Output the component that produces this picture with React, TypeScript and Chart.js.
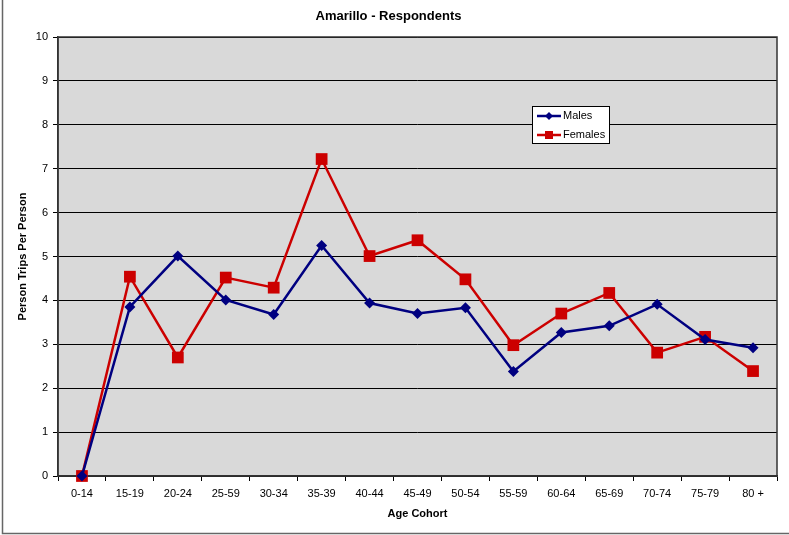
import React, { useEffect, useRef } from "react";
import { Chart, registerables } from "chart.js";

Chart.register(...registerables);

const categories = ["0-14", "15-19", "20-24", "25-59", "30-34", "35-39", "40-44", "45-49", "50-54", "55-59", "60-64", "65-69", "70-74", "75-79", "80 +"];
const males = [0, 3.85, 5.01, 4.01, 3.68, 5.25, 3.94, 3.7, 3.83, 2.38, 3.27, 3.42, 3.91, 3.11, 2.92];
const females = [0, 4.54, 2.7, 4.52, 4.29, 7.22, 5.01, 5.37, 4.48, 2.98, 3.7, 4.17, 2.81, 3.17, 2.39];
const chartTitle = "Amarillo - Respondents";
const xTitle = "Age Cohort";
const yTitle = "Person Trips Per Person";

const FONT = "'Liberation Sans', Arial, Helvetica, sans-serif";
const MALE_COLOR = "#000080";
const FEMALE_COLOR = "#CC0000";

const decorPlugin = {
  id: "decor",
  beforeDraw(chart: any) {
    const { ctx, chartArea } = chart;
    ctx.save();
    ctx.fillStyle = "#ffffff";
    ctx.fillRect(0, 0, chart.width, chart.height);
    ctx.fillStyle = "#D9D9D9";
    ctx.fillRect(chartArea.left, chartArea.top, chartArea.right - chartArea.left, chartArea.bottom - chartArea.top);
    // outer frame
    ctx.strokeStyle = "#666666";
    ctx.lineWidth = 1.5;
    ctx.beginPath();
    ctx.moveTo(2.5, 0);
    ctx.lineTo(2.5, 533.5);
    ctx.lineTo(chart.width, 533.5);
    ctx.stroke();
    ctx.restore();
  },
  beforeDatasetsDraw(chart: any) {
    const { ctx, chartArea } = chart;
    ctx.save();
    ctx.strokeStyle = "#333333";
    ctx.lineWidth = 1.5;
    ctx.strokeRect(chartArea.left, chartArea.top, chartArea.right - chartArea.left, chartArea.bottom - chartArea.top);
    ctx.restore();
  },
  afterDraw(chart: any) {
    const { ctx } = chart;
    ctx.save();
    const bx = 532, by = 106, bw = 77, bh = 37;
    ctx.fillStyle = "#ffffff";
    ctx.fillRect(bx, by, bw, bh);
    ctx.strokeStyle = "#000000";
    ctx.lineWidth = 1;
    ctx.strokeRect(bx + 0.5, by + 0.5, bw, bh);
    const items = chart.data.datasets.map((d: any, i: number) => ({
      label: d.label,
      color: d.borderColor,
      style: d.pointStyle,
      y: i === 0 ? 116 : 135,
    }));
    ctx.font = `11px ${FONT}`;
    ctx.textBaseline = "middle";
    ctx.textAlign = "left";
    items.forEach((it: any) => {
      ctx.strokeStyle = it.color;
      ctx.fillStyle = it.color;
      ctx.lineWidth = 2.5;
      ctx.beginPath();
      ctx.moveTo(537, it.y);
      ctx.lineTo(561, it.y);
      ctx.stroke();
      if (it.style === "rectRot") {
        ctx.beginPath();
        ctx.moveTo(549, it.y - 4);
        ctx.lineTo(553, it.y);
        ctx.lineTo(549, it.y + 4);
        ctx.lineTo(545, it.y);
        ctx.closePath();
        ctx.fill();
      } else {
        ctx.fillRect(545, it.y - 4, 8, 8);
      }
      ctx.fillStyle = "#000000";
      ctx.fillText(it.label, 563, it.y);
    });
    ctx.restore();
  },
};

export default function App() {
  const ref = useRef<HTMLCanvasElement | null>(null);
  useEffect(() => {
    if (!ref.current) return;
    const chart = new Chart(ref.current, {
      type: "line",
      data: {
        labels: categories,
        datasets: [
          {
            label: "Males",
            data: males,
            borderColor: MALE_COLOR,
            backgroundColor: MALE_COLOR,
            borderWidth: 2.5,
            pointStyle: "rectRot",
            pointRadius: 5.5,
            pointBorderWidth: 0,
            pointBackgroundColor: MALE_COLOR,
            tension: 0,
            clip: false as any,
          },
          {
            label: "Females",
            data: females,
            borderColor: FEMALE_COLOR,
            backgroundColor: FEMALE_COLOR,
            borderWidth: 2.5,
            pointStyle: "rect",
            pointRadius: 8.3,
            pointBorderWidth: 0,
            pointBackgroundColor: FEMALE_COLOR,
            tension: 0,
            clip: false as any,
          },
        ],
      },
      options: {
        responsive: false,
        animation: false,
        devicePixelRatio: 1,
        layout: { padding: { left: 0, right: 12, top: 0, bottom: 0 } },
        plugins: {
          legend: { display: false },
          tooltip: { enabled: false },
          title: {
            display: true,
            text: chartTitle,
            color: "#000",
            font: { family: FONT, size: 13, weight: "bold" },
            padding: { top: 8.2, bottom: 13.2 },
          },
        },
        scales: {
          x: {
            type: "category",
            offset: true,
            afterFit: (s: any) => { s.height = 59; },
            grid: { offset: true, drawOnChartArea: false, drawTicks: true, tickLength: 5, color: "#000", lineWidth: 1 },
            border: { color: "#333", width: 1.5 },
            ticks: { color: "#000", font: { family: FONT, size: 11 }, padding: 6, maxRotation: 0, autoSkip: false },
            title: {
              display: true,
              text: xTitle,
              color: "#000",
              font: { family: FONT, size: 11, weight: "bold" },
              padding: { top: 0, bottom: 14.4 },
            },
          },
          y: {
            min: 0,
            max: 10,
            afterFit: (s: any) => { s.width = 58; },
            grid: { drawTicks: true, tickLength: 5, color: "#000", lineWidth: 1 },
            border: { color: "#333", width: 1.5 },
            ticks: { stepSize: 1, color: "#000", font: { family: FONT, size: 11 }, padding: 5 },
            title: {
              display: true,
              text: yTitle,
              color: "#000",
              font: { family: FONT, size: 11, weight: "bold" },
              padding: { top: 16, bottom: 0 },
            },
          },
        },
      },
      plugins: [decorPlugin],
    });
    return () => chart.destroy();
  }, []);
  return (
    <div style={{ position: "absolute", left: 0, top: 0, width: 789, height: 535 }}>
      <canvas ref={ref} width={789} height={535} style={{ width: 789, height: 535, display: "block" }} />
    </div>
  );
}
